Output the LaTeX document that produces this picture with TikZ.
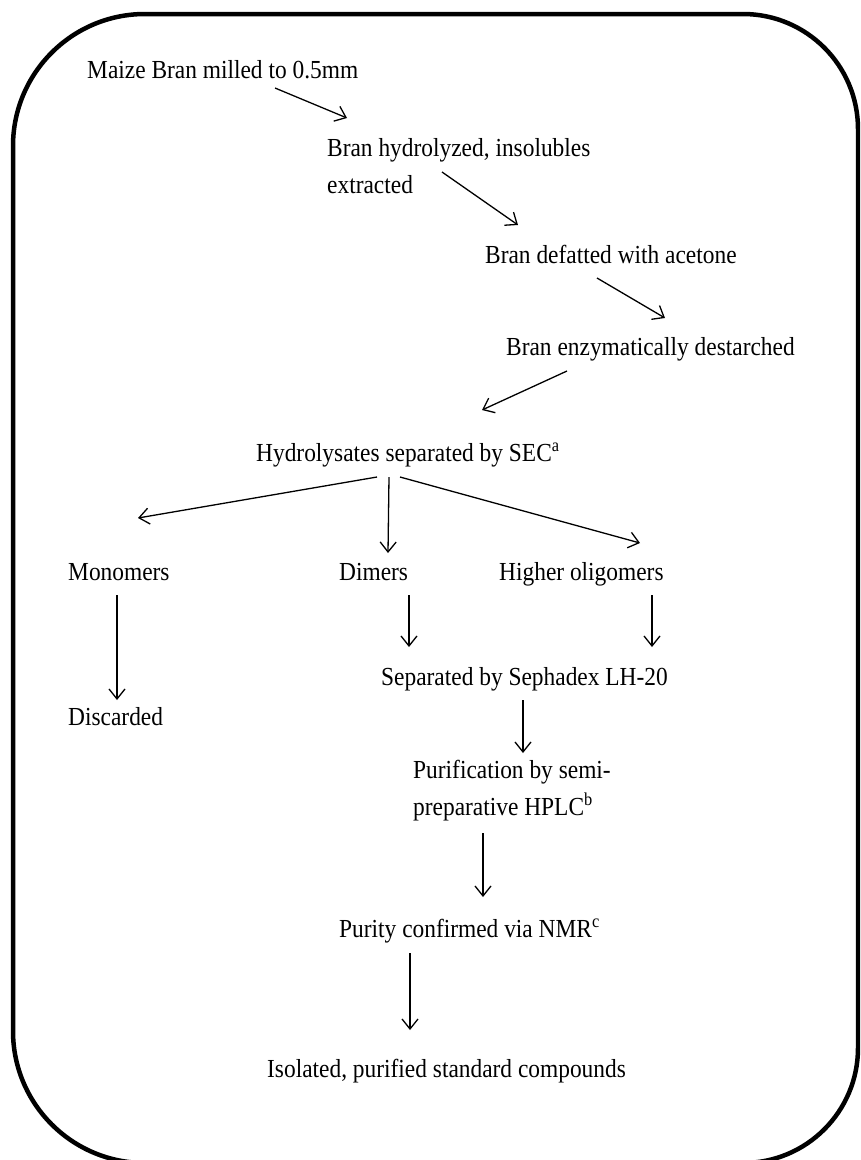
\documentclass[tikz,border=0pt]{standalone}
\usepackage{fontspec}
\setmainfont{Liberation Serif}[FakeStretch=0.9]
\usetikzlibrary{arrows.meta}

\begin{document}
\begin{tikzpicture}[x=1pt,y=-1pt,
    >={Straight Barb[length=10pt,width=16pt]},
    stage/.style={anchor=base west,inner sep=0pt,align=left,font=\fontsize{26}{37}\selectfont},
    flow/.style={->,line width=1.3pt}]
  \useasboundingbox (0,0) rectangle (860,1160);
  \clip (0,0) rectangle (860,1160);
  % frame
  \draw[line width=4.5pt] (13,600) [rounded corners=132pt] -- (13,14) -- (430,14)
    [rounded corners=115pt] -- (858,14) -- (858,1163) -- (430,1163)
    [rounded corners=132pt] -- (13,1163) -- cycle;
  % steps (two-line nodes sit on their last baseline)
  \node[stage] (maize) at (87,78) {Maize Bran milled to 0.5mm};
  \node[stage] (hydro) at (327,193) {Bran hydrolyzed, insolubles\\extracted};
  \node[stage] (defat) at (485,263) {Bran defatted with acetone};
  \node[stage] (destarch) at (506,355) {Bran enzymatically destarched};
  \node[stage] (sec) at (256,461) {Hydrolysates separated by SEC\textsuperscript{a}};
  \node[stage] (mono) at (68,580) {Monomers};
  \node[stage] (dimer) at (339,580) {Dimers};
  \node[stage] (higher) at (499,580) {Higher oligomers};
  \node[stage] (discard) at (68,725) {Discarded};
  \node[stage] (sephadex) at (381,685) {Separated by Sephadex LH-20};
  \node[stage] (hplc) at (413,815) {Purification by semi-\\preparative HPLC\textsuperscript{b}};
  \node[stage] (nmr) at (339,937) {Purity confirmed via NMR\textsuperscript{c}};
  \node[stage] (isol) at (267,1077) {Isolated, purified standard compounds};
  % arrows
  \draw[flow] ([shift={(188,10)}]maize.base west) -- ([shift={(20,-75)}]hydro.base west);
  \draw[flow] ([shift={(115,-21)}]hydro.base west) -- ([shift={(33,-38)}]defat.base west);
  \draw[flow] ([shift={(112,15)}]defat.base west) -- ([shift={(159,-37)}]destarch.base west);
  \draw[flow] ([shift={(61,16)}]destarch.base west) -- ([shift={(226,-51)}]sec.base west);
  \draw[flow] ([shift={(121,16)}]sec.base west) -- ([shift={(70,-62)}]mono.base west);
  \draw[flow] ([shift={(133,16)}]sec.base west) -- ([shift={(49,-27)}]dimer.base west);
  \draw[flow] ([shift={(144,16)}]sec.base west) -- ([shift={(141,-37)}]higher.base west);
  \draw[flow] ([shift={(49,15)}]mono.base west) -- ([shift={(49,-25)}]discard.base west);
  \draw[flow] ([shift={(70,15)}]dimer.base west) -- ([shift={(28,-38)}]sephadex.base west);
  \draw[flow] ([shift={(153,15)}]higher.base west) -- ([shift={(271,-38)}]sephadex.base west);
  \draw[flow] ([shift={(142,15)}]sephadex.base west) -- ([shift={(110,-62)}]hplc.base west);
  \draw[flow] ([shift={(70,18)}]hplc.base west) -- ([shift={(144,-40)}]nmr.base west);
  \draw[flow] ([shift={(71,16)}]nmr.base west) -- ([shift={(143,-47)}]isol.base west);
\end{tikzpicture}
\end{document}
